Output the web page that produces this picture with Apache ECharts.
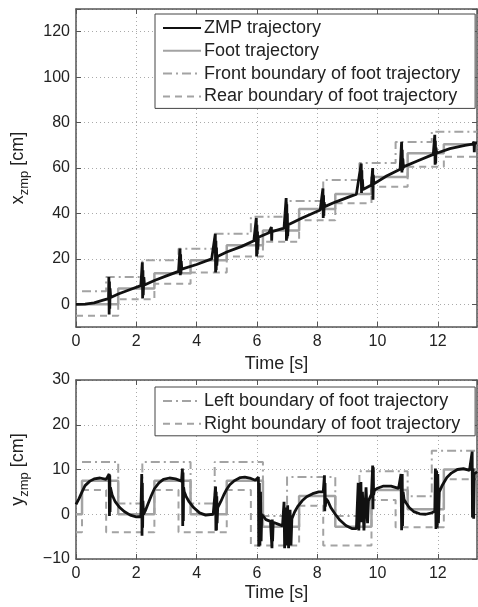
<!DOCTYPE html>
<html><head><meta charset="utf-8">
<script src="https://cdn.jsdelivr.net/npm/echarts@6/dist/echarts.min.js"></script>
<style>html,body{margin:0;padding:0;background:#fff}#c{width:478px;height:607px}</style>
</head><body><div id="c"></div>
<script>
// ---------- data ----------
const T_END = 13.3;
// upper plot (x direction, cm)
const footTimesX   = [0, 1.4, 2.6, 3.8, 5.0, 6.2, 7.4, 8.6, 9.8, 11.0, 12.2];
const footValsX    = [0, 7, 13.7, 19.4, 26, 32.5, 42, 48.5, 56, 66.5, 70.5];
const frontTimes   = [0.2, 1.0, 2.2, 3.4, 4.6, 5.8, 7.0, 8.2, 9.4, 10.6, 11.8];
const frontVals    = [5.7, 12, 19.4, 24.5, 31, 38.5, 45.5, 54.7, 62.2, 71.5, 76];
const rearTimes    = [0, 1.4, 2.6, 3.8, 5.0, 6.2, 7.4, 8.6, 9.8, 11.0, 12.2];
const rearVals     = [-5, 2.2, 9, 14, 21, 27.5, 37, 44.5, 51.7, 60.5, 65];
const zmpX = [
 [0,0],[0.3,0.1],[0.6,0.6],[0.9,1.8],
 [1.08,2.5],[1.09,12],[1.10,-4.5],[1.11,10],[1.12,-2],[1.13,7],[1.15,3],
 [1.4,4.5],[1.8,6.5],[2.15,8.2],
 [2.2,18.5],[2.21,2.6],[2.22,15],[2.23,4],[2.25,12],[2.27,8.5],
 [2.6,10.5],[3.0,12.5],[3.4,14.5],
 [3.45,24.5],[3.46,12.8],[3.47,22],[3.48,13.5],[3.49,19],[3.51,15.5],
 [4.0,17.5],[4.5,20],
 [4.62,31],[4.63,14],[4.64,28],[4.65,15],[4.66,25],[4.67,17],[4.69,21],
 [5.0,23],[5.5,25.5],[5.9,28],
 [5.98,38],[5.99,21],[6.0,35],[6.01,22],[6.02,32],[6.03,24],[6.05,29.5],
 [6.4,31.5],[6.48,34],[6.49,28],[6.5,32],[6.52,31.5],
 [6.9,33.5],[6.97,46.8],[6.98,28],[6.99,44],[7.0,29],[7.01,40],[7.02,30],[7.04,35],
 [7.5,38],[8.1,41.5],[8.19,51],[8.2,38],[8.21,48],[8.22,39],[8.23,45],[8.25,43],
 [8.6,45],[9.3,48.5],[9.46,62],[9.47,49],[9.48,59],[9.49,50],[9.5,55],[9.52,50.5],
 [9.8,52.5],[9.84,60],[9.85,46],[9.86,57],[9.88,53],
 [10.3,56.5],[10.75,59.5],[10.8,71.5],[10.81,58],[10.82,68],[10.83,59],[10.84,64],[10.86,60.5],
 [11.3,63],[11.85,66],[11.9,74.6],[11.91,61.4],[11.92,72],[11.93,62],[11.94,69],[11.96,66.5],
 [12.4,68.5],[12.9,70],[13.15,70.5],[13.2,71.5],[13.21,67],[13.22,71],[13.24,70.5],[13.3,71]
];
// lower plot (y direction, cm)
const footTimesY  = [0, 0.2, 1.4, 2.6, 3.8, 5.0, 6.2, 7.4, 8.6, 9.8, 11.0, 12.2];
const footValsY   = [0, 7.5, 0, 7.5, 0, 7.5, -2.8, 4.1, -2.8, 5.4, 1.1, 10];
const leftTimes   = [0.2, 1.4, 2.2, 3.8, 4.6, 6.2, 7.0, 8.6, 9.4, 11.0, 11.8];
const leftVals    = [11.7, 2.4, 11.7, 2.4, 11.7, -0.4, 8.3, -0.4, 9.6, 4, 14.2];
const rightTimes  = [0, 0.2, 1.0, 2.6, 3.4, 5.0, 5.8, 7.4, 8.2, 9.8, 10.6, 12.2];
const rightVals   = [-4, 5.4, -4, 5.4, -4, 5.4, -7, 1.9, -7, 3.2, -2.9, 7.8];
const zmpY = [
 [0,2.2],[0.1,3.5],[0.2,5],[0.3,6.4],[0.46,7.4],[0.6,7.9],[0.8,8.1],[1.0,7.8],[1.05,7.5],
 [1.1,9],[1.11,-0.4],[1.12,8.7],[1.13,0.5],[1.14,6],
 [1.2,4.3],[1.3,2.8],[1.45,1.5],[1.6,0.6],[1.8,-0.2],[2.0,-0.6],[2.15,-0.5],
 [2.18,9],[2.19,-4.8],[2.2,7],[2.21,-3],[2.22,3],[2.24,0],
 [2.3,0.8],[2.4,2.5],[2.5,4.2],[2.6,5.7],[2.75,7],[2.9,7.8],[3.1,8.1],[3.3,7.9],[3.5,7.4],
 [3.53,10.2],[3.54,-2.6],[3.55,9.3],[3.56,-1.5],[3.57,6],[3.59,5],
 [3.65,4],[3.75,2.8],[3.9,1.5],[4.1,0.3],[4.3,-0.2],[4.55,0],
 [4.63,6.2],[4.64,-3.7],[4.65,5],[4.66,-3.6],[4.67,4],[4.68,-2],[4.7,1.5],
 [4.8,2.8],[4.9,4.3],[5.0,5.6],[5.1,6.6],[5.25,7.5],[5.45,8.2],[5.6,8.3],[5.8,8],[5.95,7.6],
 [6.05,8.3],[6.06,-7.2],[6.08,7],[6.1,-7],[6.12,5],[6.14,-6],[6.16,0],
 [6.3,-1.2],[6.45,-1.6],[6.5,-7.6],[6.51,-1.2],[6.52,-6],[6.54,-1.8],
 [6.7,-2.2],[6.85,-2.6],[6.9,2.8],[6.92,-7.6],[6.95,1.5],[6.98,-7],[7.02,2],[7.05,-7.6],[7.1,1],[7.13,-7],[7.16,-1],
 [7.25,0.5],[7.35,1.7],[7.5,3],[7.65,3.9],[7.85,4.6],[8.05,5],[8.2,5],
 [8.24,8.7],[8.25,0.7],[8.26,7],[8.27,1.7],[8.29,3.5],
 [8.35,3],[8.45,1.5],[8.6,0],[8.75,-1.3],[8.95,-2.5],[9.15,-3.2],[9.3,-3.2],
 [9.35,-3],[9.36,7],[9.38,-3.6],[9.45,7.2],[9.47,-1.8],[9.5,5],[9.55,-3.6],[9.62,6],[9.67,-2],[9.7,3],
 [9.8,4.5],[9.84,10.9],[9.85,1.1],[9.86,10.5],[9.87,4.3],[9.9,5.4],
 [10.0,5.8],[10.2,6.3],[10.45,6.3],[10.7,5.8],[10.75,5.8],
 [10.78,9],[10.8,-3.6],[10.82,9],[10.83,-2.6],[10.85,5],[10.88,3.3],
 [10.95,2.5],[11.05,1.5],[11.2,0.6],[11.4,0.1],[11.6,0],[11.8,0.3],[11.9,0.7],
 [11.92,10.2],[11.94,-3.3],[11.96,9.8],[11.98,-3],[12.0,9],[12.02,-2],[12.05,5],
 [12.15,6.5],[12.3,8.2],[12.45,9.2],[12.65,10],[12.85,10.2],[13.05,9.8],
 [13.14,14],[13.15,-0.7],[13.17,10.2],[13.19,-1],[13.21,9],[13.3,9.5]
];
const legendTop = ['ZMP trajectory','Foot trajectory','Front boundary of foot trajectory','Rear boundary of foot trajectory'];
const legendBottom = ['Left boundary of foot trajectory','Right boundary of foot trajectory'];

// ---------- chart ----------
function steps(times, vals){ const d = times.map((t,i)=>[t, vals[i]]); d.push([T_END, vals[vals.length-1]]); return d; }
const FONT = 'Liberation Sans, Arial, sans-serif';
const AX = '#555', TXT = '#222', GRAY = '#a3a3a3';
const fmtNum = v => String(v).replace('-', '\u2212');

function xMain(g){
  return {type:'value', gridIndex:g, min:0, max:T_END, interval:2,
    name:'Time [s]', nameLocation:'middle', nameGap:25,
    nameTextStyle:{fontSize:18, color:TXT, fontFamily:FONT},
    axisLine:{show:true, onZero:false, lineStyle:{color:AX, width:1.5}},
    axisTick:{show:true, inside:true, length:5, lineStyle:{color:AX}},
    axisLabel:{fontSize:16, color:TXT, fontFamily:FONT, margin:7, showMaxLabel:false,
      formatter:v => (Math.abs(v % 2) < 1e-9 ? fmtNum(v) : '')},
    splitLine:{show:true, lineStyle:{type:[1,3], color:'#aaa'}}};
}
function xMirror(g){
  return {type:'value', gridIndex:g, min:0, max:T_END, interval:2, position:'top',
    axisLine:{show:true, onZero:false, lineStyle:{color:AX, width:1.5}},
    axisTick:{show:true, inside:true, length:5, lineStyle:{color:AX}},
    axisLabel:{show:false}, splitLine:{show:false}};
}
function yMain(g, min, max, step, label){
  return {type:'value', gridIndex:g, min:min, max:max, splitNumber:(max-min)/step, minInterval:step, maxInterval:step,
    name:label, nameLocation:'middle', nameGap:45, nameRotate:90,
    nameTextStyle:{rich:{
      i:{fontSize:18, color:TXT, fontFamily:FONT, lineHeight:26, verticalAlign:'middle'},
      s:{fontSize:13, color:TXT, fontFamily:FONT, lineHeight:26, verticalAlign:'bottom'}}},
    axisLine:{show:true, onZero:false, lineStyle:{color:AX, width:1.5}},
    axisTick:{show:true, inside:true, length:5, lineStyle:{color:AX}},
    axisLabel:{fontSize:16, color:TXT, fontFamily:FONT, margin:6,
      formatter:v => (Math.abs(v % step) < 1e-9 ? fmtNum(v) : '')},
    splitLine:{show:true, lineStyle:{type:[1,3], color:'#aaa'}}};
}
function yMirror(g, min, max, step){
  return {type:'value', gridIndex:g, min:min, max:max, splitNumber:(max-min)/step, minInterval:step, maxInterval:step, position:'right',
    axisLine:{show:true, onZero:false, lineStyle:{color:AX, width:1.5}},
    axisTick:{show:true, inside:true, length:5, lineStyle:{color:AX}},
    axisLabel:{show:false}, splitLine:{show:false}};
}
function line(name, data, xi, yi, color, width, type, z){
  return {name, type:'line', data, xAxisIndex:xi, yAxisIndex:yi, showSymbol:false, symbol:'none',
    lineStyle:{color, width, type:type||'solid'}, itemStyle:{color}, z:z||2, animation:false};
}
const DASHDOT = [9,4,2,4], DASH = [7,5];
const legendCommon = {orient:'vertical', backgroundColor:'#fff', borderColor:'#444', borderWidth:1,
  itemWidth:38, itemHeight:16, itemGap:4.8, padding:[5,15,3,7], align:'left',
  itemStyle:{opacity:0},
  textStyle:{fontSize:18, color:TXT, fontFamily:FONT, padding:[0,0,0,-2]}, selectedMode:false};

const chart = echarts.init(document.getElementById('c'), null, {renderer:'canvas'});
chart.setOption({
  animation:false, backgroundColor:'#fff',
  grid:[{left:76, right:1, top:9, height:318}, {left:76, right:1, top:380, height:179}],
  xAxis:[xMain(0), xMirror(0), xMain(1), xMirror(1)],
  yAxis:[yMain(0,-10,130,20,'{i|x}{s|zmp}{i| [cm]}'), yMirror(0,-10,130,20),
         yMain(1,-10,30,10,'{i|y}{s|zmp}{i| [cm]}'), yMirror(1,-10,30,10)],
  legend:[
    Object.assign({left:155, top:14, data:legendTop}, legendCommon),
    Object.assign({left:155, top:387, data:legendBottom}, legendCommon)
  ],
  series:[
    line('Front boundary of foot trajectory', steps(frontTimes, frontVals), 0, 0, GRAY, 2, DASHDOT),
    line('Rear boundary of foot trajectory', steps(rearTimes, rearVals), 0, 0, GRAY, 2, DASH),
    line('Foot trajectory', steps(footTimesX, footValsX), 0, 0, GRAY, 2.5, 'solid', 3),
    line('ZMP trajectory', zmpX, 0, 0, '#111', 2.8, 'solid', 4),
    line('Left boundary of foot trajectory', steps(leftTimes, leftVals), 2, 2, GRAY, 2, DASHDOT),
    line('Right boundary of foot trajectory', steps(rightTimes, rightVals), 2, 2, GRAY, 2, DASH),
    line('Foot trajectory (y)', steps(footTimesY, footValsY), 2, 2, GRAY, 2.5, 'solid', 3),
    line('ZMP trajectory (y)', zmpY, 2, 2, '#111', 2.8, 'solid', 4)
  ].map(s => Object.assign(s, {step: (s.name.indexOf('ZMP') === 0) ? false : 'end'}))
});
</script></body></html>
